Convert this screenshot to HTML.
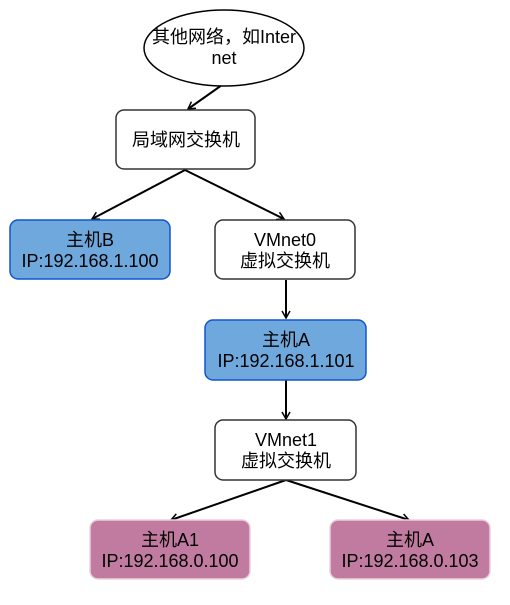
<!DOCTYPE html>
<html><head><meta charset="utf-8"><style>
body{margin:0;background:#fff;width:510px;height:600px;overflow:hidden}
svg text{font-family:"Liberation Sans","Noto Sans CJK SC",sans-serif;font-size:18px;fill:#000;text-anchor:middle}
</style></head><body>
<svg width="510" height="600" viewBox="0 0 510 600">
<defs><marker id="a" markerWidth="10" markerHeight="10" refX="8" refY="5" orient="auto" markerUnits="userSpaceOnUse"><path d="M1,1 L8,5 L1,9" fill="none" stroke="#000" stroke-width="1.5"/></marker></defs>
<g stroke="#000" stroke-width="2" fill="none">
<line x1="222" y1="85" x2="188" y2="109" marker-end="url(#a)"/>
<line x1="185" y1="170" x2="92" y2="219" marker-end="url(#a)"/>
<line x1="185" y1="170" x2="284" y2="219" marker-end="url(#a)"/>
<line x1="286" y1="280" x2="286" y2="318" marker-end="url(#a)"/>
<line x1="286" y1="380" x2="286" y2="419" marker-end="url(#a)"/>
<line x1="286" y1="480" x2="171" y2="520" marker-end="url(#a)"/>
<line x1="286" y1="480" x2="409" y2="520" marker-end="url(#a)"/>
</g>
<ellipse cx="224" cy="48" rx="80" ry="38" fill="#fff" stroke="#000" stroke-width="1.5"/>
<rect x="116" y="110" width="139" height="59" rx="8" fill="#fff" stroke="#333" stroke-width="1.5"/>
<rect x="10" y="220" width="160" height="59" rx="8" fill="#6fa8dc" stroke="#1155cc" stroke-width="1.5"/>
<rect x="215" y="220" width="140" height="59" rx="8" fill="#fff" stroke="#333" stroke-width="1.5"/>
<rect x="205" y="320" width="161" height="60" rx="8" fill="#6fa8dc" stroke="#1155cc" stroke-width="1.5"/>
<rect x="215" y="420" width="141" height="60" rx="8" fill="#fff" stroke="#333" stroke-width="1.5"/>
<rect x="90" y="520" width="160" height="59" rx="8" fill="#c27ba0" stroke="#ead1dc" stroke-width="1.5"/>
<rect x="330" y="520" width="160" height="59" rx="8" fill="#c27ba0" stroke="#ead1dc" stroke-width="1.5"/>
<text x="224" y="43">其他网络，如Inter</text>
<text x="224" y="64">net</text>
<text x="186" y="146">局域网交换机</text>
<text x="90" y="246">主机B</text>
<text x="90" y="267">IP:192.168.1.100</text>
<text x="285" y="246">VMnet0</text>
<text x="285" y="267">虚拟交换机</text>
<text x="286" y="346">主机A</text>
<text x="286" y="367">IP:192.168.1.101</text>
<text x="286" y="446">VMnet1</text>
<text x="286" y="467">虚拟交换机</text>
<text x="170" y="546">主机A1</text>
<text x="170" y="567">IP:192.168.0.100</text>
<text x="410" y="546">主机A</text>
<text x="410" y="567">IP:192.168.0.103</text>
</svg>
</body></html>
